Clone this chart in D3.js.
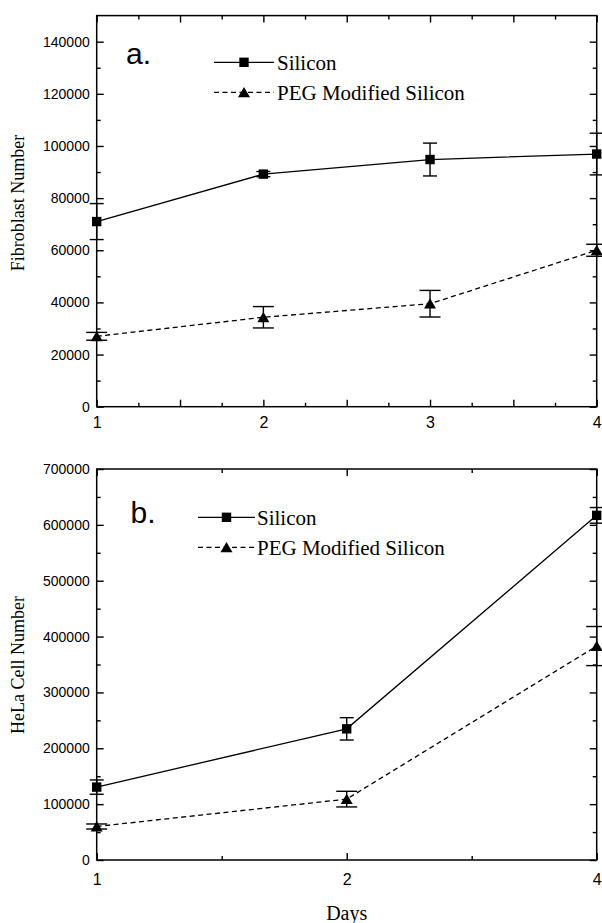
<!DOCTYPE html>
<html>
<head>
<meta charset="utf-8">
<script src="https://cdn.jsdelivr.net/npm/d3@7"></script>
<style>
  body { margin: 0; background: #fff; }
  svg { display: block; }
</style>
</head>
<body>
<script>
// Panel a: fibroblasts
const daysA = [1, 2, 3, 4];
const siliconA = [71000, 89200, 94800, 96900];
const siliconErrA = [6900, 1000, 6300, 8000];
const pegA = [27000, 34300, 39500, 60000];
const pegErrA = [1500, 4100, 5100, 2300];
const yTicksA = [0, 20000, 40000, 60000, 80000, 100000, 120000, 140000];

// Panel b: HeLa cells (x axis is log base 2)
const daysB = [1, 2, 4];
const siliconB = [130500, 234800, 617000];
const siliconErrB = [12800, 20000, 14000];
const pegB = [60000, 109000, 383000];
const pegErrB = [4500, 14000, 35000];
const yTicksB = [0, 100000, 200000, 300000, 400000, 500000, 600000, 700000];

const seriesNames = ['Silicon', 'PEG Modified Silicon'];

const W = 602, H = 923;
const LEFT = 96.7, RIGHT = 596.7;
const SANS = '"Liberation Sans", Arial, Helvetica, sans-serif';
const SERIF = '"Liberation Serif", "Times New Roman", Times, serif';

const svg = d3.select('body').append('svg')
    .attr('width', W)
    .attr('height', H)
    .attr('viewBox', `0 0 ${W} ${H}`);

// square and triangle markers
function drawMarker(g, type, x, y) {
    if (type === 'square') {
        g.append('rect')
            .attr('x', x - 4.7).attr('y', y - 4.7)
            .attr('width', 9.4).attr('height', 9.4)
            .attr('fill', '#000');
    } else {
        g.append('path')
            .attr('d', `M${x},${y - 5.4}L${x + 6},${y + 4.9}L${x - 6},${y + 4.9}Z`)
            .attr('fill', '#000');
    }
}

function styleAxis(sel) {
    sel.select('.domain').remove();
    sel.selectAll('line').attr('stroke', '#000').attr('stroke-width', 1.4);
    sel.selectAll('text')
        .attr('fill', '#000')
        .style('font-family', SANS)
        .style('font-size', '14px');
}

function drawPanel(cfg) {
    const g = svg.append('g');
    const x = cfg.x.range([LEFT, RIGHT]);
    const y = d3.scaleLinear().domain(cfg.yDomain).range([cfg.bottom, cfg.top]);

    // bottom axis: major (labelled) and minor ticks, all pointing inward
    g.append('g')
        .attr('transform', `translate(0,${cfg.bottom})`)
        .call(d3.axisBottom(x).tickValues(cfg.xMajor).tickSizeInner(-7).tickSizeOuter(0)
            .tickPadding(cfg.xPad)
            .tickFormat(d => cfg.xLabels.includes(d) ? d : ''))
        .call(styleAxis)
        .call(a => a.selectAll('text').style('font-size', '16px'));
    g.append('g')
        .attr('transform', `translate(0,${cfg.bottom})`)
        .call(d3.axisBottom(x).tickValues(cfg.xMinor).tickSizeInner(-4).tickSizeOuter(0).tickFormat(''))
        .call(styleAxis);

    // top axis mirrors the bottom one, without labels
    g.append('g')
        .attr('transform', `translate(0,${cfg.top})`)
        .call(d3.axisTop(x).tickValues(cfg.xMajor).tickSizeInner(-7).tickSizeOuter(0).tickFormat(''))
        .call(styleAxis);
    g.append('g')
        .attr('transform', `translate(0,${cfg.top})`)
        .call(d3.axisTop(x).tickValues(cfg.xMinor).tickSizeInner(-4).tickSizeOuter(0).tickFormat(''))
        .call(styleAxis);

    // y axes, left labelled, right bare
    const step = cfg.yTicks[1] - cfg.yTicks[0];
    const yMinor = d3.range(step / 2, cfg.yDomain[1], step);
    g.append('g')
        .attr('transform', `translate(${LEFT},0)`)
        .call(d3.axisLeft(y).tickValues(cfg.yTicks).tickSizeInner(-7).tickSizeOuter(0)
            .tickPadding(7).tickFormat(d3.format('d')))
        .call(styleAxis);
    g.append('g')
        .attr('transform', `translate(${LEFT},0)`)
        .call(d3.axisLeft(y).tickValues(yMinor).tickSizeInner(-4).tickSizeOuter(0).tickFormat(''))
        .call(styleAxis);
    g.append('g')
        .attr('transform', `translate(${RIGHT},0)`)
        .call(d3.axisRight(y).tickValues(cfg.yTicks).tickSizeInner(-7).tickSizeOuter(0).tickFormat(''))
        .call(styleAxis);
    g.append('g')
        .attr('transform', `translate(${RIGHT},0)`)
        .call(d3.axisRight(y).tickValues(yMinor).tickSizeInner(-4).tickSizeOuter(0).tickFormat(''))
        .call(styleAxis);

    // frame
    g.append('rect')
        .attr('x', LEFT).attr('y', cfg.top)
        .attr('width', RIGHT - LEFT).attr('height', cfg.bottom - cfg.top)
        .attr('fill', 'none')
        .attr('stroke', '#000')
        .attr('stroke-width', 1.5);

    // y label
    g.append('text')
        .attr('transform', `translate(24,${cfg.yLabelY}) rotate(-90)`)
        .attr('text-anchor', 'middle')
        .style('font-family', SERIF)
        .style('font-size', '18px')
        .text(cfg.yLabel);

    // series
    const series = [
        { values: cfg.silicon, errs: cfg.siliconErr, marker: 'square', dash: null, cap: 7 },
        { values: cfg.peg, errs: cfg.pegErr, marker: 'triangle', dash: '5,3.5', cap: 10.5 }
    ];
    const line = d3.line().x(d => x(d[0])).y(d => y(d[1]));

    series.forEach(s => {
        const pts = cfg.days.map((d, i) => [d, s.values[i], s.errs[i]]);
        g.append('path')
            .datum(pts)
            .attr('d', line)
            .attr('fill', 'none')
            .attr('stroke', '#000')
            .attr('stroke-width', 1.3)
            .attr('stroke-dasharray', s.dash);

        pts.forEach(p => {
            const px = x(p[0]);
            const y0 = y(p[1] - p[2]), y1 = y(p[1] + p[2]);
            g.append('line')
                .attr('x1', px).attr('x2', px).attr('y1', y0).attr('y2', y1)
                .attr('stroke', '#000').attr('stroke-width', 1.4);
            [y0, y1].forEach(yy => {
                g.append('line')
                    .attr('x1', px - s.cap).attr('x2', px + s.cap)
                    .attr('y1', yy).attr('y2', yy)
                    .attr('stroke', '#000').attr('stroke-width', 1.4);
            });
            drawMarker(g, s.marker, px, y(p[1]));
        });
    });

    // panel letter
    g.append('text')
        .attr('x', cfg.letterX).attr('y', cfg.letterY)
        .style('font-family', SANS)
        .style('font-size', '30px')
        .text(cfg.letter);

    // legend
    const lg = cfg.legend;
    series.forEach((s, i) => {
        const ly = lg.rows[i];
        g.append('line')
            .attr('x1', lg.x0).attr('x2', lg.x1)
            .attr('y1', ly).attr('y2', ly)
            .attr('stroke', '#000')
            .attr('stroke-width', 1.3)
            .attr('stroke-dasharray', s.dash);
        drawMarker(g, s.marker, (lg.x0 + lg.x1) / 2, ly);
        g.append('text')
            .attr('x', lg.textX).attr('y', ly + 8)
            .style('font-family', SERIF)
            .style('font-size', '21px')
            .text(seriesNames[i]);
    });
}

drawPanel({
    top: 15.6, bottom: 406.7,
    x: d3.scaleLinear().domain([1, 4]),
    xMajor: [1, 1.5, 2, 2.5, 3, 3.5, 4],
    xMinor: [1.25, 1.75, 2.25, 2.75, 3.25, 3.75],
    xLabels: daysA,
    xPad: 10,
    yDomain: [0, 150000],
    yTicks: yTicksA,
    yLabel: 'Fibroblast Number',
    yLabelY: 203,
    days: daysA,
    silicon: siliconA, siliconErr: siliconErrA,
    peg: pegA, pegErr: pegErrA,
    letter: 'a.', letterX: 126, letterY: 64,
    legend: { x0: 214, x1: 274, textX: 277, rows: [62.3, 92.3] }
});

drawPanel({
    top: 469, bottom: 860,
    x: d3.scaleLog().base(2).domain([1, 4]),
    xMajor: [1, 2, 4],
    xMinor: [Math.SQRT2, 2 * Math.SQRT2],
    xLabels: daysB,
    xPad: 13.5,
    yDomain: [0, 700000],
    yTicks: yTicksB,
    yLabel: 'HeLa Cell Number',
    yLabelY: 665,
    days: daysB,
    silicon: siliconB, siliconErr: siliconErrB,
    peg: pegB, pegErr: pegErrB,
    letter: 'b.', letterX: 130.5, letterY: 523,
    legend: { x0: 198, x1: 255, textX: 257, rows: [517.3, 547.3] }
});

// shared x label, sits under day 2 of panel b
svg.append('text')
    .attr('x', 346.7).attr('y', 920)
    .attr('text-anchor', 'middle')
    .style('font-family', SERIF)
    .style('font-size', '20px')
    .text('Days');
</script>
</body>
</html>
